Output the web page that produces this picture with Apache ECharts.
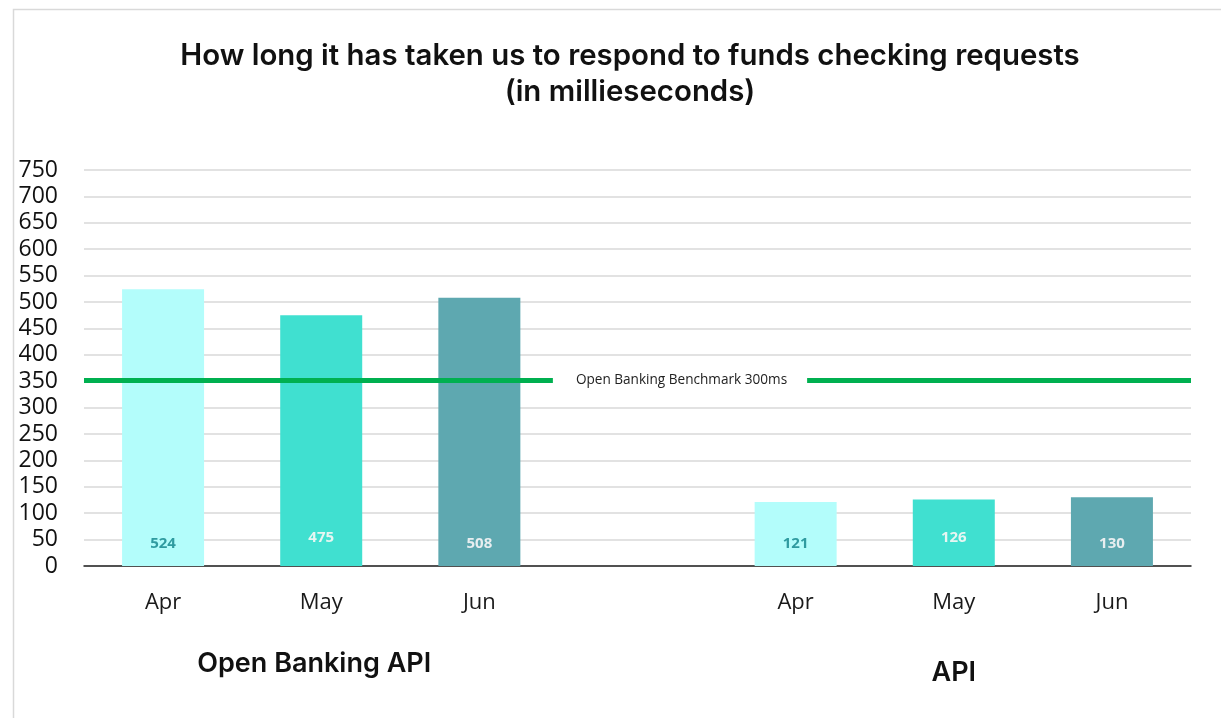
<!DOCTYPE html>
<html>
<head>
<meta charset="utf-8">
<script src="https://cdn.jsdelivr.net/npm/echarts@6/dist/echarts.min.js"></script>
<style>html,body{margin:0;padding:0;background:#fff;}#chart{width:1221px;height:718px;}</style>
</head>
<body>
<div id="chart"></div>
<script>
const categories = ['Apr', 'May', 'Jun', '', 'Apr', 'May', 'Jun'];
const values = [524, 475, 508, null, 121, 126, 130];
const groupLabels = ['', 'Open Banking API', '', '', '', 'API', ''];
const yTicks = [0, 750, 50];
const benchmarkValue = 352;
const benchmarkLabel = 'Open Banking Benchmark 300ms';
const titleLines = ['How long it has taken us to respond to funds checking requests', '(in millieseconds)'];

const barColors = ['#b3fdfb', '#40e0d0', '#5ea8b0'];
const labelColors = ['#2f9ba0', '#e6f6f2', '#e8eef0'];

const data = values.map((v, i) => {
  if (v == null) return null;
  const m = i % 4;
  return {
    value: v,
    itemStyle: { color: barColors[m] },
    label: { color: labelColors[m], distance: m === 1 ? 21 : 15 }
  };
});

const chart = echarts.init(document.getElementById('chart'), null, { renderer: 'canvas' });
chart.setOption({
  animation: false,
  backgroundColor: '#fff',
  graphic: [{
    type: 'rect', left: 11, top: 7, z: -10,
    shape: { width: 1240, height: 760 },
    style: { fill: 'none', stroke: '#d9d9d9', lineWidth: 1.5 }
  }],
  title: {
    text: titleLines.join('\n'),
    left: 630,
    textAlign: 'center',
    top: 38,
    padding: 0,
    textStyle: { fontFamily: 'Inter', fontWeight: 600, fontSize: 29.4, lineHeight: 36, color: '#111' }
  },
  grid: { left: 84, right: 30, top: 170, bottom: 152, containLabel: false },
  xAxis: [{
    type: 'category',
    data: categories,
    axisLine: { lineStyle: { color: '#222', width: 1.5 } },
    axisTick: { show: false },
    axisLabel: { margin: 26, fontFamily: 'Open Sans', fontSize: 22, color: '#1a1a1a', interval: 0 }
  }, {
    type: 'category',
    data: groupLabels,
    position: 'bottom',
    offset: 0,
    axisLine: { show: false },
    axisTick: { show: false },
    axisLabel: {
      interval: 0, margin: 84,
      formatter: function (v) { return v === 'API' ? '{b|' + v + '}' : '{a|' + v + '}'; },
      rich: {
        a: { fontFamily: 'Inter', fontWeight: 600, fontSize: 27, color: '#111', padding: [0, 14, 0, 0] },
        b: { fontFamily: 'Inter', fontWeight: 600, fontSize: 27, color: '#111', padding: [9, 0, 0, 0] }
      }
    }
  }],
  yAxis: {
    type: 'value',
    min: yTicks[0], max: yTicks[1], interval: yTicks[2],
    axisLine: { show: false },
    axisTick: { show: false },
    axisLabel: { margin: 26, fontFamily: 'Open Sans', fontSize: 23, color: '#111' },
    splitLine: { lineStyle: { color: '#d9d9d9', width: 1.5 } }
  },
  series: [{
    type: 'bar',
    data: data,
    barWidth: 82,
    label: {
      show: true,
      position: 'insideBottom',
      fontFamily: 'Open Sans',
      fontWeight: 'bold',
      fontSize: 15
    },
    markLine: {
      silent: true,
      symbol: 'none',
      lineStyle: { color: '#00b050', width: 5, type: 'solid' },
      label: {
        show: true,
        position: 'middle',
        distance: 0,
        verticalAlign: 'middle',
        formatter: '{s| }{t|' + benchmarkLabel + '}',
        rich: {
          s: { width: 85 },
          t: { fontFamily: 'Open Sans', fontSize: 13.6, color: '#222', backgroundColor: '#fff', padding: [6, 20, 6, 23] }
        }
      },
      data: [{ yAxis: benchmarkValue }]
    }
  }]
});
</script>
</body>
</html>
